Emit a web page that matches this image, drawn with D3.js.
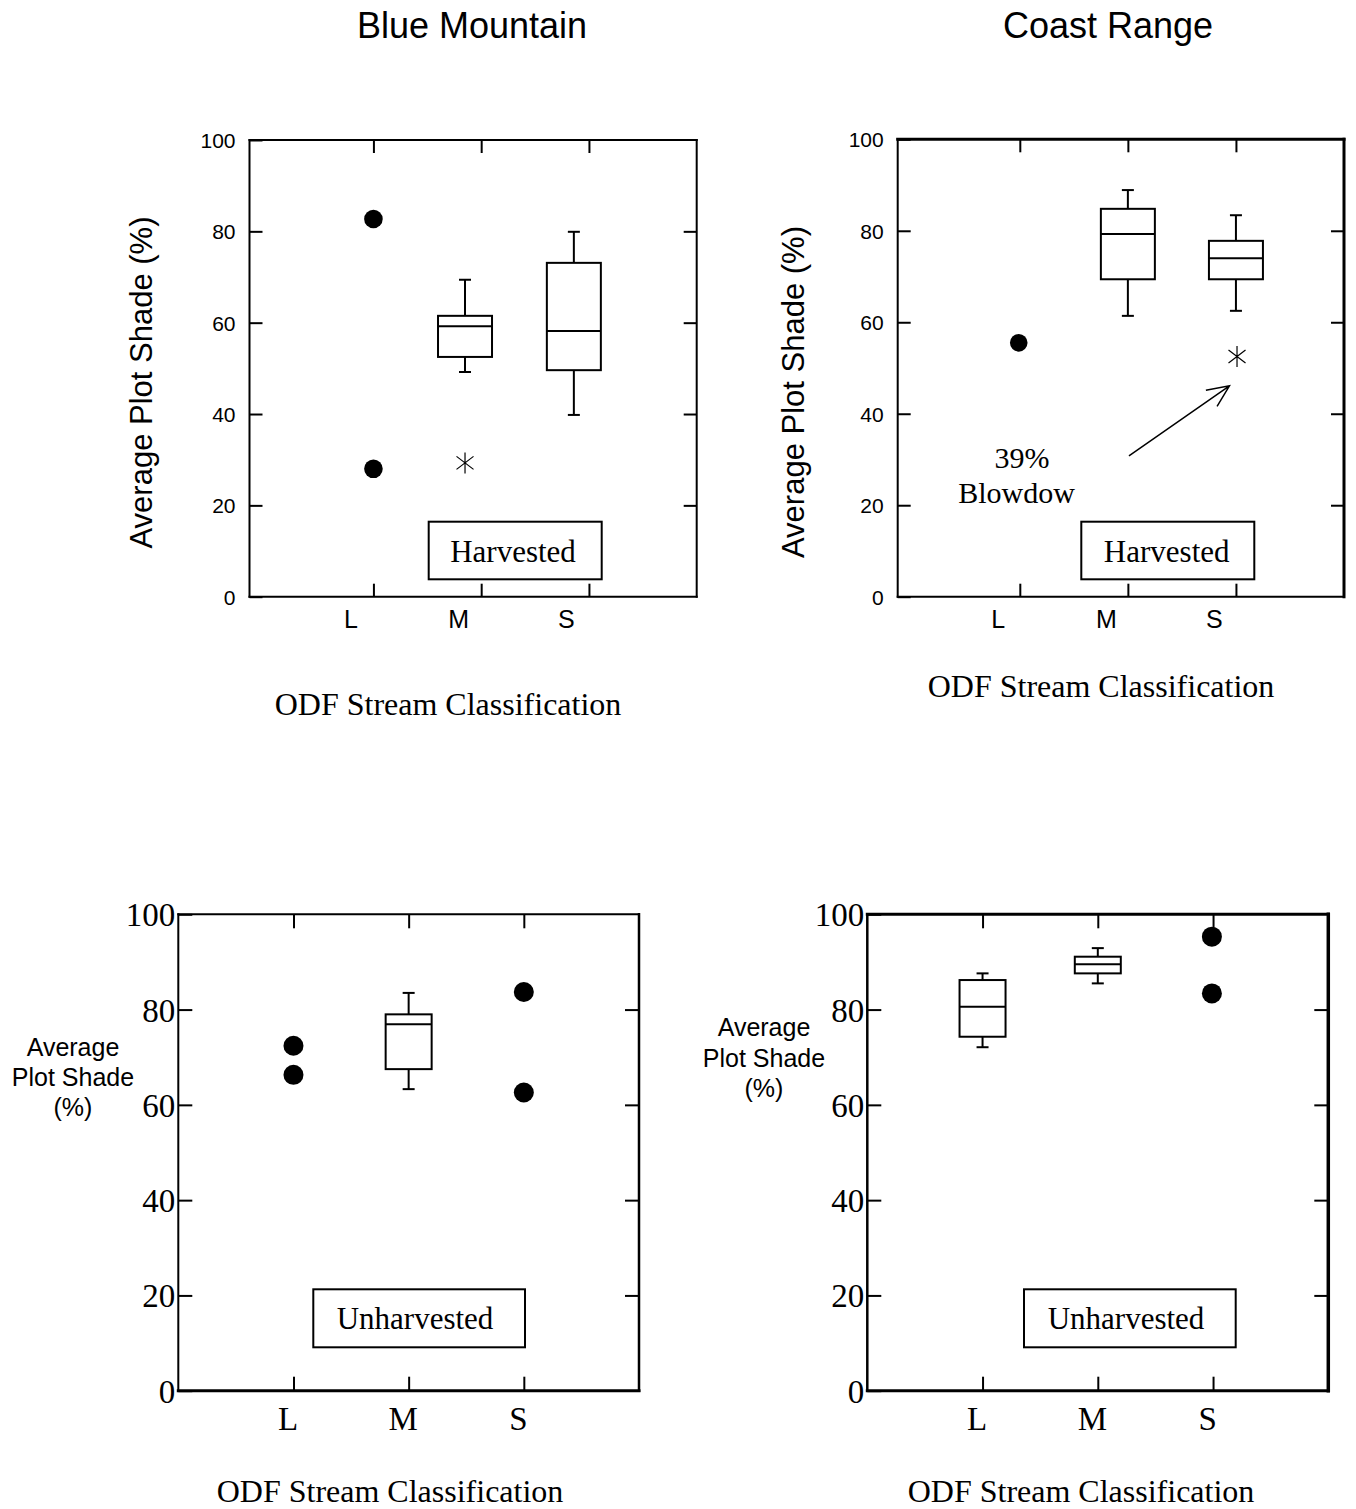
<!DOCTYPE html>
<html><head><meta charset="utf-8">
<script src="https://cdn.jsdelivr.net/npm/d3@7"></script>
<style>body{margin:0;background:#fff} svg{display:block}</style>
</head><body>
<svg id="chart" width="1356" height="1509"></svg>
<script>
// ---------------- DATA ----------------
const categories = ["L", "M", "S"];
const categoryPositions = [1, 2, 3];
const yTickValues = [0, 20, 40, 60, 80, 100];
const innerYTicks = [20, 40, 60, 80];
const regionTitles = ["Blue Mountain", "Coast Range"];
const treatmentLabels = ["Harvested", "Unharvested"];
const yAxisTitle = "Average Plot Shade (%)";
const yAxisTitleLines = ["Average", "Plot Shade", "(%)"];
const xAxisTitle = "ODF Stream Classification";

// Blue Mountain - Harvested
const bmHarvBoxes = [
  {cat: "M", pos: 1.85, low: 49.2, q1: 52.5, med: 59.2, q3: 61.5, high: 69.4},
  {cat: "S", pos: 2.86, low: 39.8, q1: 49.6, med: 58.2, q3: 73.1, high: 79.9}
];
const bmHarvPoints = [{cat: "L", pos: 1, v: 82.7}, {cat: "L", pos: 1, v: 28.0}];
const bmHarvOutliers = [{cat: "M", pos: 1.85, v: 29.3}];

// Coast Range - Harvested
const crHarvBoxes = [
  {cat: "M", pos: 2, low: 61.4, q1: 69.4, med: 79.3, q3: 84.8, high: 88.9},
  {cat: "S", pos: 3, low: 62.5, q1: 69.4, med: 74.0, q3: 77.8, high: 83.4}
];
const crHarvPoints = [{cat: "L", pos: 0.99, v: 55.5}];
const crHarvOutliers = [{cat: "S", pos: 3.01, v: 52.5}];
const crAnnotationLines = ["39%", "Blowdow"];
const crAnnotationAnchors = [[1.02, 28.1], [0.97, 20.5]];
const crArrow = [[2.01, 30.8], [2.94, 46.1]];

// Blue Mountain - Unharvested
const bmUnhBoxes = [
  {cat: "M", pos: 2, low: 63.3, q1: 67.5, med: 76.9, q3: 79.0, high: 83.5}
];
const bmUnhPoints = [
  {cat: "L", pos: 1, v: 72.4}, {cat: "L", pos: 1, v: 66.3},
  {cat: "S", pos: 3, v: 83.7}, {cat: "S", pos: 3, v: 62.6}
];

// Coast Range - Unharvested
const crUnhBoxes = [
  {cat: "L", pos: 1, low: 72.1, q1: 74.3, med: 80.6, q3: 86.2, high: 87.6},
  {cat: "M", pos: 2, low: 85.5, q1: 87.6, med: 89.5, q3: 91.1, high: 92.9}
];
const crUnhPoints = [{cat: "S", pos: 2.99, v: 95.3}, {cat: "S", pos: 2.99, v: 83.4}];

// ---------------- DRAWING ----------------
const SANS = "'Liberation Sans', Arial, Helvetica, sans-serif";
const SERIF = "'Liberation Serif', 'Times New Roman', Times, serif";
const svg = d3.select("#chart");

const panels = [
  { left: 249.5, right: 696.7, top: 140, bottom: 596.7, xDomain: [-0.15, 4],
    boxes: bmHarvBoxes, points: bmHarvPoints, stars: bmHarvOutliers,
    frame: [2, 2, 2, 2], tick: 13, tickFont: SANS, tickSize: 21, tickPad: 14,
    catFont: SANS, catSize: 25, catPad: 13.5, catDx: -23, boxW: 54, dotR: 9.3,
    legend: {text: treatmentLabels[0], x0: 428.7, x1: 601.7, y0: 521.7, y1: 579.3, tx: 513, ty: 561.7, size: 31},
    xTitle: {x: 448, y: 714.5},
    yTitle: {type: "rot", x: 152, y: 382.5}
  },
  { left: 897.7, right: 1344, top: 139.3, bottom: 596.7, xDomain: [-0.13, 4],
    boxes: crHarvBoxes, points: crHarvPoints, stars: crHarvOutliers,
    frame: [3, 3, 2, 2], tick: 13, tickFont: SANS, tickSize: 21, tickPad: 14,
    catFont: SANS, catSize: 25, catPad: 13.5, catDx: -22, boxW: 54, dotR: 8.8,
    legend: {text: treatmentLabels[0], x0: 1081.3, x1: 1254.3, y0: 521.7, y1: 579.3, tx: 1166.7, ty: 561.7, size: 31},
    xTitle: {x: 1101, y: 696.5},
    yTitle: {type: "rot", x: 804, y: 392},
    annotation: true
  },
  { left: 178.3, right: 639, top: 914.3, bottom: 1390.7, xDomain: [0, 4],
    boxes: bmUnhBoxes, points: bmUnhPoints, stars: [],
    frame: [2, 2.5, 3, 2], tick: 14, tickFont: SERIF, tickSize: 33, tickPad: 3,
    catFont: SERIF, catSize: 33, catPad: 16, catDx: -6, boxW: 46, dotR: 10,
    legend: {text: treatmentLabels[1], x0: 313.3, x1: 525, y0: 1289.3, y1: 1347.3, tx: 415, ty: 1329.3, size: 31},
    xTitle: {x: 390, y: 1501.5},
    yTitle: {type: "lines", x: 73, y: 1056, dy: 30}
  },
  { left: 867.3, right: 1328.3, top: 914.3, bottom: 1390.7, xDomain: [0, 4],
    boxes: crUnhBoxes, points: crUnhPoints, stars: [],
    frame: [3, 3.5, 3, 2.5], tick: 14, tickFont: SERIF, tickSize: 33, tickPad: 3,
    catFont: SERIF, catSize: 33, catPad: 16, catDx: -6, boxW: 46, dotR: 10,
    legend: {text: treatmentLabels[1], x0: 1024, x1: 1235.7, y0: 1289.3, y1: 1347.3, tx: 1126, ty: 1329.3, size: 31},
    xTitle: {x: 1081, y: 1501.5},
    yTitle: {type: "lines", x: 764, y: 1036, dy: 30.5}
  }
];

function styleAxis(g, font, size) {
  g.attr("font-family", font).attr("font-size", size);
  g.select(".domain").remove();
  g.selectAll(".tick line").attr("stroke", "#000").attr("stroke-width", 2);
  g.selectAll(".tick text").attr("fill", "#000");
}

function drawPanel(p) {
  const x = d3.scaleLinear().domain(p.xDomain).range([p.left, p.right]);
  const y = d3.scaleLinear().domain([0, 100]).range([p.bottom, p.top]);
  const g = svg.append("g");

  // axes (inward ticks)
  g.append("g").attr("transform", `translate(${p.left},0)`)
    .call(d3.axisLeft(y).tickValues(yTickValues).tickSize(-p.tick).tickPadding(p.tickPad))
    .call(a => styleAxis(a, p.tickFont, p.tickSize))
    .call(a => a.selectAll(".tick text").attr("dy", "0.35em"));
  g.append("g").attr("transform", `translate(${p.right},0)`)
    .call(d3.axisRight(y).tickValues(innerYTicks).tickSize(-p.tick).tickFormat(""))
    .call(a => styleAxis(a, p.tickFont, p.tickSize));
  g.append("g").attr("transform", `translate(0,${p.top})`)
    .call(d3.axisTop(x).tickValues(categoryPositions).tickSize(-p.tick).tickFormat(""))
    .call(a => styleAxis(a, p.tickFont, p.tickSize));
  g.append("g").attr("transform", `translate(0,${p.bottom})`)
    .call(d3.axisBottom(x).tickValues(categoryPositions).tickSize(-p.tick).tickPadding(p.catPad)
      .tickFormat(d => categories[categoryPositions.indexOf(d)]))
    .call(a => styleAxis(a, p.catFont, p.catSize))
    .call(a => a.selectAll(".tick text").attr("dx", p.catDx));

  // frame: top, right, bottom, left
  const [ft, fr, fb, fl] = p.frame;
  const fg = g.append("g").attr("stroke", "#000").attr("stroke-linecap", "square");
  fg.append("line").attr("x1", p.left).attr("x2", p.right).attr("y1", p.top).attr("y2", p.top).attr("stroke-width", ft);
  fg.append("line").attr("x1", p.right).attr("x2", p.right).attr("y1", p.top).attr("y2", p.bottom).attr("stroke-width", fr);
  fg.append("line").attr("x1", p.left).attr("x2", p.right).attr("y1", p.bottom).attr("y2", p.bottom).attr("stroke-width", fb);
  fg.append("line").attr("x1", p.left).attr("x2", p.left).attr("y1", p.top).attr("y2", p.bottom).attr("stroke-width", fl);

  // box plots
  const capW = 12;
  const bg = g.selectAll("g.box").data(p.boxes).join("g").attr("class", "box")
    .attr("stroke", "#000").attr("stroke-width", 2).attr("fill", "none");
  bg.append("line").attr("x1", d => x(d.pos)).attr("x2", d => x(d.pos)).attr("y1", d => y(d.high)).attr("y2", d => y(d.q3));
  bg.append("line").attr("x1", d => x(d.pos)).attr("x2", d => x(d.pos)).attr("y1", d => y(d.q1)).attr("y2", d => y(d.low));
  bg.append("line").attr("x1", d => x(d.pos) - capW / 2).attr("x2", d => x(d.pos) + capW / 2).attr("y1", d => y(d.high)).attr("y2", d => y(d.high));
  bg.append("line").attr("x1", d => x(d.pos) - capW / 2).attr("x2", d => x(d.pos) + capW / 2).attr("y1", d => y(d.low)).attr("y2", d => y(d.low));
  bg.append("rect").attr("x", d => x(d.pos) - p.boxW / 2).attr("width", p.boxW)
    .attr("y", d => y(d.q3)).attr("height", d => y(d.q1) - y(d.q3)).attr("fill", "#fff");
  bg.append("line").attr("x1", d => x(d.pos) - p.boxW / 2).attr("x2", d => x(d.pos) + p.boxW / 2).attr("y1", d => y(d.med)).attr("y2", d => y(d.med));

  // points
  g.selectAll("circle.pt").data(p.points).join("circle").attr("class", "pt")
    .attr("cx", d => x(d.pos)).attr("cy", d => y(d.v)).attr("r", p.dotR).attr("fill", "#000");

  // asterisk outliers
  g.selectAll("path.star").data(p.stars).join("path").attr("class", "star")
    .attr("d", d => {
      const cx = x(d.pos), cy = y(d.v);
      return `M${cx},${cy - 10.5}L${cx},${cy + 10.5}M${cx - 8.5},${cy - 6.5}L${cx + 8.5},${cy + 6.5}M${cx - 8.5},${cy + 6.5}L${cx + 8.5},${cy - 6.5}`;
    })
    .attr("stroke", "#000").attr("stroke-width", 1.2).attr("fill", "none");

  // legend box
  const L = p.legend;
  g.append("rect").attr("x", L.x0).attr("y", L.y0).attr("width", L.x1 - L.x0).attr("height", L.y1 - L.y0)
    .attr("fill", "#fff").attr("stroke", "#000").attr("stroke-width", 2);
  g.append("text").attr("x", L.tx).attr("y", L.ty).attr("text-anchor", "middle")
    .attr("font-family", SERIF).attr("font-size", L.size).text(L.text);

  // x title
  g.append("text").attr("x", p.xTitle.x).attr("y", p.xTitle.y).attr("text-anchor", "middle")
    .attr("font-family", SERIF).attr("font-size", 32).text(xAxisTitle);

  // y title
  if (p.yTitle.type === "rot") {
    g.append("text").attr("transform", `translate(${p.yTitle.x},${p.yTitle.y}) rotate(-90)`)
      .attr("text-anchor", "middle").attr("font-family", SANS).attr("font-size", 31).text(yAxisTitle);
  } else {
    g.append("g").selectAll("text").data(yAxisTitleLines).join("text")
      .attr("x", p.yTitle.x).attr("y", (d, i) => p.yTitle.y + i * p.yTitle.dy)
      .attr("text-anchor", "middle").attr("font-family", SANS).attr("font-size", 25).text(d => d);
  }

  // annotation (Coast Range harvested)
  if (p.annotation) {
    g.selectAll("text.ann").data(crAnnotationLines).join("text").attr("class", "ann")
      .attr("x", (d, i) => x(crAnnotationAnchors[i][0])).attr("y", (d, i) => y(crAnnotationAnchors[i][1]))
      .attr("text-anchor", "middle").attr("font-family", SERIF).attr("font-size", 30).text(d => d);
    const [s, e] = crArrow;
    const x1 = x(s[0]), y1 = y(s[1]), x2 = x(e[0]), y2 = y(e[1]);
    const ang = Math.atan2(y2 - y1, x2 - x1);
    const hl = 24, ha = 0.42;
    const a1 = [x2 - hl * Math.cos(ang - ha), y2 - hl * Math.sin(ang - ha)];
    const a2 = [x2 - hl * Math.cos(ang + ha), y2 - hl * Math.sin(ang + ha)];
    g.append("path").attr("d", `M${x1},${y1}L${x2},${y2}M${a1[0]},${a1[1]}L${x2},${y2}L${a2[0]},${a2[1]}`)
      .attr("fill", "none").attr("stroke", "#000").attr("stroke-width", 1.5);
  }
}

panels.forEach(drawPanel);

// region titles
svg.selectAll("text.title").data(regionTitles).join("text").attr("class", "title")
  .attr("x", (d, i) => [472, 1108][i]).attr("y", 38)
  .attr("text-anchor", "middle").attr("font-family", SANS).attr("font-size", 36).text(d => d);
</script>
</body></html>
